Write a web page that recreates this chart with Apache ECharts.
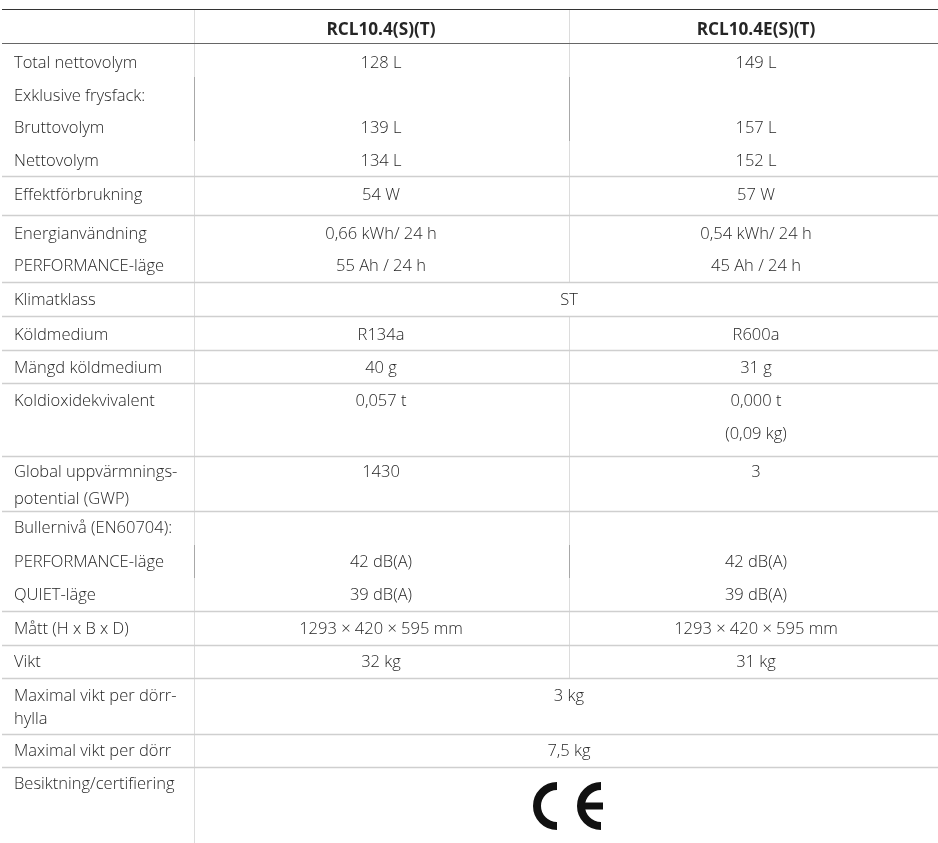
<!DOCTYPE html>
<html><head><meta charset="utf-8">
<script src="https://cdn.jsdelivr.net/npm/echarts@6/dist/echarts.min.js"></script>
<style>html,body{margin:0;padding:0;background:#fff}#c{width:938px;height:843px}</style>
</head><body><div id="c"></div>
<script>
// ---- data ----
const headers = ["RCL10.4(S)(T)", "RCL10.4E(S)(T)"];
const rowLabels = ["Total nettovolym", "Exklusive frysfack:", "Bruttovolym", "Nettovolym", "Effektförbrukning",
  "Energianvändning", "PERFORMANCE-läge", "Klimatklass", "Köldmedium", "Mängd köldmedium", "Koldioxidekvivalent",
  "Global uppvärmnings-\npotential (GWP)", "Bullernivå (EN60704):", "PERFORMANCE-läge", "QUIET-läge",
  "Mått (H x B x D)", "Vikt", "Maximal vikt per dörr-\nhylla", "Maximal vikt per dörr", "Besiktning/certifiering"];
const valuesA = ["128 L", "", "139 L", "134 L", "54 W", "0,66 kWh/ 24 h", "55 Ah / 24 h", null, "R134a", "40 g",
  "0,057 t", "1430", "", "42 dB(A)", "39 dB(A)", "1293 × 420 × 595 mm", "32 kg", null, null, null];
const valuesB = ["149 L", "", "157 L", "152 L", "57 W", "0,54 kWh/ 24 h", "45 Ah / 24 h", null, "R600a", "31 g",
  "0,000 t\n(0,09 kg)", "3", "", "42 dB(A)", "39 dB(A)", "1293 × 420 × 595 mm", "31 kg", null, null, null];
const sharedValues = [null, null, null, null, null, null, null, "ST", null, null, null, null, null, null, null,
  null, null, "3 kg", "7,5 kg", "CE"];

// ---- layout ----
const rowY = [62, 95, 127, 160, 194, 233, 265, 299, 334, 367, 400, 471, 527, 561, 594, 628, 661, 695, 750, 783];
const rowLH = [33, 33, 33, 33, 33, 33, 33, 33, 33, 33, 33, 27, 33, 33, 33, 33, 33, 23, 33, 33];
const sepY = [176, 215, 282, 316, 350, 383, 456, 511, 611, 645, 678, 734, 767];
const FONT = '"Open Sans", Lato, sans-serif';
const W = 938, H = 843;
const xLabel = 14, cA = 381, cB = 756, cAB = 569, vx1 = 194, vx2 = 569;
const txtColor = '#262626';
const yShift = 1.5;

const els = [];
function line(x1, y1, x2, y2, color, w) {
  els.push({type: 'line', shape: {x1, y1, x2, y2}, style: {stroke: color, lineWidth: w || 1}, silent: true});
}
function text(str, x, y, align, lh, bold) {
  els.push({type: 'text', x, y: y - lh / 2 + yShift, style: {text: str, x: 0, y: 0, align, verticalAlign: 'top',
    font: (bold ? 'bold 17.2px ' : '300 16.5px ') + FONT, fill: txtColor, lineHeight: lh}, silent: true});
}
// vertical separators
line(vx1 + 0.5, 9, vx1 + 0.5, H, '#dcdcdc', 1);
line(vx2 + 0.5, 9, vx2 + 0.5, 282, '#dcdcdc', 1);
line(vx2 + 0.5, 316, vx2 + 0.5, 678, '#dcdcdc', 1);
[[77, 141], [545, 578]].forEach(s => {
  line(vx1 + 0.5, s[0], vx1 + 0.5, s[1], '#a8a8a8', 1);
  line(vx2 + 0.5, s[0], vx2 + 0.5, s[1], '#a8a8a8', 1);
});
// horizontal lines
line(2, 9.5, W, 9.5, '#333', 1.2);
line(2, 43.5, W, 43.5, '#666', 1.2);
sepY.forEach(y => line(2, y + 0.5, W, y + 0.5, '#cfcfcf', 1.3));
// headers
text(headers[0], cA, 29, 'center', 20, true);
text(headers[1], cB, 29, 'center', 20, true);
// rows
rowLabels.forEach((lab, i) => {
  const y = rowY[i], lh = rowLH[i];
  text(lab, xLabel, y, 'left', lh);
  if (valuesA[i]) text(valuesA[i], cA, y, 'center', lh);
  if (valuesB[i]) text(valuesB[i], cB, y, 'center', 33);
  const s = sharedValues[i];
  if (s === 'CE') {
    const cy = 806, r = 20, lw = 8;
    els.push({type: 'arc', shape: {cx: 557, cy, r, startAngle: Math.PI / 2, endAngle: Math.PI * 1.5, clockwise: true},
      style: {stroke: '#111', lineWidth: lw, fill: null, lineCap: 'butt'}, silent: true});
    els.push({type: 'arc', shape: {cx: 601, cy, r, startAngle: Math.PI / 2, endAngle: Math.PI * 1.5, clockwise: true},
      style: {stroke: '#111', lineWidth: lw, fill: null, lineCap: 'butt'}, silent: true});
    els.push({type: 'rect', shape: {x: 583, y: cy - 3.5, width: 20, height: 7}, style: {fill: '#111'}, silent: true});
  } else if (s) {
    text(s, cAB, y, 'center', lh);
  }
});

const chart = echarts.init(document.getElementById('c'), null, {renderer: 'canvas'});
chart.setOption({animation: false, backgroundColor: '#fff', graphic: {elements: els}});
</script></body></html>
